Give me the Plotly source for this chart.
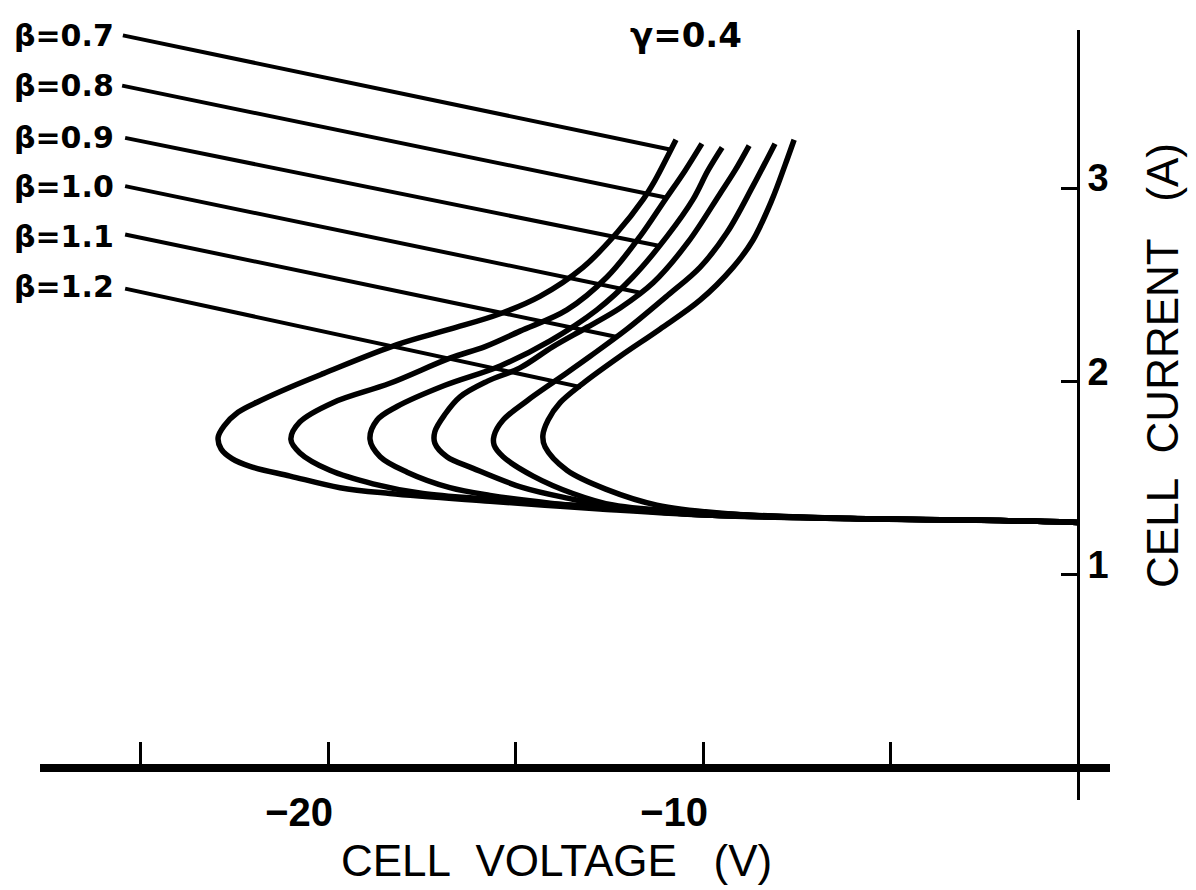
import plotly.graph_objects as go

# ---- data (cell voltage V, cell current A) ----
BETAS = ["0.7", "0.8", "0.9", "1.0", "1.1", "1.2"]
GAMMA = "0.4"

V_B07 = [-10.72, -10.93, -11.28, -11.60, -12.29, -13.20, -14.35, -15.41, -16.75, -18.16, -20.13, -21.01,
         -21.81, -22.40, -22.77, -22.93, -22.85, -22.56, -22.08, -21.01, -19.68, -18.35, -15.68, -12.75,
         -10.08, -6.08, -2.08, 0.0]
I_B07 = [3.25, 3.17, 3.04, 2.94, 2.77, 2.59, 2.44, 2.35, 2.27, 2.19, 2.04, 1.97,
         1.90, 1.84, 1.77, 1.71, 1.65, 1.60, 1.56, 1.51, 1.45, 1.42, 1.38, 1.34,
         1.31, 1.29, 1.28, 1.27]

V_B08 = [-10.03, -10.48, -11.01, -11.68, -12.56, -13.63, -14.88, -15.81, -16.75, -18.35, -19.87, -20.75,
         -20.99, -20.75, -19.95, -18.80, -17.47, -15.68, -12.75, -10.08, -6.08, -2.08, 0.0]
I_B08 = [3.23, 3.09, 2.94, 2.75, 2.54, 2.37, 2.26, 2.18, 2.12, 1.99, 1.89, 1.79,
         1.70, 1.63, 1.54, 1.47, 1.42, 1.39, 1.35, 1.32, 1.29, 1.28, 1.27]

V_B09 = [-9.49, -9.87, -10.27, -10.96, -11.87, -12.83, -14.08, -15.41, -16.88, -18.16, -18.69, -18.88,
         -18.61, -17.89, -16.75, -15.68, -14.08, -12.21, -10.08, -6.08, -2.08, 0.0]
I_B09 = [3.21, 3.09, 2.94, 2.75, 2.54, 2.37, 2.21, 2.08, 1.98, 1.87, 1.80, 1.70,
         1.61, 1.53, 1.45, 1.41, 1.37, 1.34, 1.31, 1.29, 1.28, 1.27]

V_B10 = [-8.77, -9.15, -9.55, -10.40, -11.33, -12.21, -13.09, -14.00, -14.88, -15.76, -16.48, -16.88,
         -17.15, -17.15, -16.83, -16.13, -14.80, -13.47, -12.40, -10.08, -6.08, -2.08, 0.0]
I_B10 = [3.22, 3.09, 2.97, 2.72, 2.51, 2.38, 2.28, 2.18, 2.07, 2.00, 1.92, 1.83,
         1.74, 1.68, 1.61, 1.55, 1.45, 1.39, 1.35, 1.31, 1.29, 1.28, 1.27]

V_B11 = [-8.08, -8.67, -9.36, -10.08, -10.91, -12.03, -13.01, -13.81, -14.69, -15.33, -15.57,
         -15.57, -15.33, -14.53, -13.47, -12.40, -10.08, -6.08, -2.08, 0.0]
I_B11 = [3.23, 3.01, 2.77, 2.59, 2.45, 2.27, 2.13, 2.02, 1.90, 1.80, 1.72,
         1.67, 1.61, 1.51, 1.42, 1.36, 1.32, 1.29, 1.28, 1.27]

V_B12 = [-7.57, -7.81, -8.16, -8.67, -9.20, -10.08, -11.15, -12.21, -13.20, -13.81, -14.13, -14.27,
         -14.21, -13.63, -12.56, -11.23, -9.01, -6.08, -2.08, 0.0]
I_B12 = [3.25, 3.12, 2.94, 2.73, 2.59, 2.42, 2.27, 2.13, 1.99, 1.89, 1.80, 1.72,
         1.66, 1.54, 1.44, 1.36, 1.31, 1.29, 1.28, 1.27]

CURVES_V = [V_B07, V_B08, V_B09, V_B10, V_B11, V_B12]
CURVES_I = [I_B07, I_B08, I_B09, I_B10, I_B11, I_B12]

# leader lines: label end -> point on its own curve
LEADER_START_V = [-25.47, -25.49, -25.41, -25.41, -25.41, -25.41]
LEADER_START_I = [3.79, 3.53, 3.26, 3.01, 2.76, 2.48]
LEADER_END_V = [-10.88, -10.96, -11.15, -11.70, -12.29, -13.25]
LEADER_END_I = [3.20, 2.95, 2.70, 2.46, 2.23, 1.97]
LABEL_I = [3.79, 3.53, 3.26, 3.01, 2.75, 2.49]

X_TICKS = [-25, -20, -15, -10, -5]
X_TICKTEXT = ["", "\u221220", "", "\u221210", ""]
Y_TICKS = [1, 2, 3]
Y_TICKTEXT = ["1", "2", "3"]

X_RANGE = [-27.68, 0.853]
Y_RANGE = [-0.166, 3.818]

SANS = "Liberation Sans, Arial, sans-serif"
HEAVY = "DejaVu Sans, Liberation Sans, sans-serif"

fig = go.Figure()

for v, i, b in zip(CURVES_V, CURVES_I, BETAS):
    fig.add_trace(go.Scatter(x=v, y=i, mode="lines", name="\u03b2=" + b,
                             line=dict(color="black", width=5.5, shape="spline", smoothing=1.0),
                             showlegend=False, hoverinfo="skip"))

for k in range(len(BETAS)):
    fig.add_trace(go.Scatter(x=[LEADER_START_V[k], LEADER_END_V[k]],
                             y=[LEADER_START_I[k], LEADER_END_I[k]],
                             mode="lines", line=dict(color="black", width=4),
                             showlegend=False, hoverinfo="skip"))
    fig.add_annotation(x=-0.0262, y=LABEL_I[k], xref="paper", yref="y", text="\u03b2=" + BETAS[k],
                       showarrow=False, xanchor="left", yanchor="middle",
                       font=dict(family=HEAVY, size=30, color="black", weight="bold"))

fig.add_annotation(x=-10.45, y=3.79, xref="x", yref="y", text="\u03b3=" + GAMMA,
                   showarrow=False, xanchor="center", yanchor="middle",
                   font=dict(family=HEAVY, size=34, color="black", weight="bold"))

# axis titles
fig.add_annotation(x=0.483, y=-0.078, xref="paper", yref="paper",
                   text="CELL\u00a0\u00a0VOLTAGE\u00a0\u00a0\u00a0(V)", showarrow=False,
                   xanchor="center", yanchor="middle",
                   font=dict(family=SANS, size=44, color="black"))
fig.add_annotation(x=1.0495, y=0.565, xref="paper", yref="paper",
                   text="CELL\u00a0\u00a0CURRENT\u00a0\u00a0\u00a0(A)", showarrow=False, textangle=-90,
                   xanchor="center", yanchor="middle",
                   font=dict(family=SANS, size=44, color="black"))

fig.update_layout(
    width=1188, height=882,
    margin=dict(l=32, r=86, t=22, b=90),
    paper_bgcolor="white", plot_bgcolor="white",
    showlegend=False,
    xaxis=dict(range=X_RANGE, anchor="free", position=0.0416, showline=True, linewidth=8,
               linecolor="black", ticks="inside", ticklen=22, tickwidth=3, tickcolor="black",
               tickvals=X_TICKS, ticktext=X_TICKTEXT, showgrid=False, zeroline=False,
               tickfont=dict(family=SANS, size=40, color="black", weight="bold"),
               ticklabelshift=-29, ticklabelstandoff=6),
    yaxis=dict(range=Y_RANGE, side="right", anchor="free", position=0.9701, showline=True,
               linewidth=3, linecolor="black", ticks="inside", ticklen=16, tickwidth=3,
               tickcolor="black", tickvals=Y_TICKS, ticktext=Y_TICKTEXT, showgrid=False,
               zeroline=False, tickfont=dict(family=SANS, size=38, color="black", weight="bold"),
               ticklabelshift=-10, ticklabelstandoff=0),
)

fig.write_html("out.html")
